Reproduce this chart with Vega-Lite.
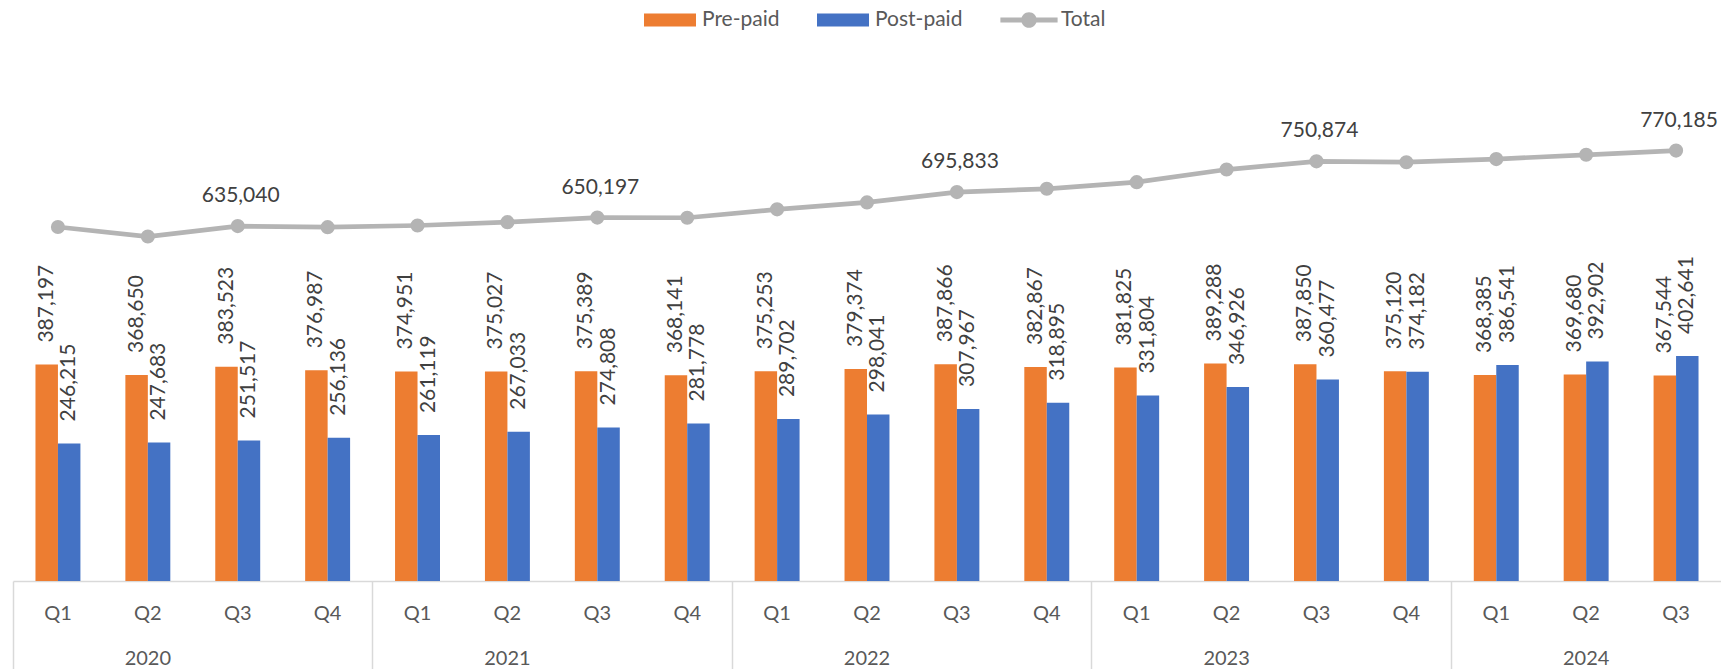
{
  "$schema": "https://vega.github.io/schema/vega-lite/v6.json",
  "width": 1708,
  "height": 503,
  "autosize": {"type": "none"},
  "padding": {"left": 13, "top": 78, "right": 0, "bottom": 88},
  "background": "white",
  "config": {"view": {"stroke": null}, "font": "Lato"},
  "data": {
    "values": [
      {"period": "2020 Q1", "year": "2020", "q": "Q1", "Pre-paid": 387197, "Post-paid": 246215, "total": 633412},
      {"period": "2020 Q2", "year": "2020", "q": "Q2", "Pre-paid": 368650, "Post-paid": 247683, "total": 616333},
      {"period": "2020 Q3", "year": "2020", "q": "Q3", "Pre-paid": 383523, "Post-paid": 251517, "total": 635040},
      {"period": "2020 Q4", "year": "2020", "q": "Q4", "Pre-paid": 376987, "Post-paid": 256136, "total": 633123},
      {"period": "2021 Q1", "year": "2021", "q": "Q1", "Pre-paid": 374951, "Post-paid": 261119, "total": 636070},
      {"period": "2021 Q2", "year": "2021", "q": "Q2", "Pre-paid": 375027, "Post-paid": 267033, "total": 642060},
      {"period": "2021 Q3", "year": "2021", "q": "Q3", "Pre-paid": 375389, "Post-paid": 274808, "total": 650197},
      {"period": "2021 Q4", "year": "2021", "q": "Q4", "Pre-paid": 368141, "Post-paid": 281778, "total": 649919},
      {"period": "2022 Q1", "year": "2022", "q": "Q1", "Pre-paid": 375253, "Post-paid": 289702, "total": 664955},
      {"period": "2022 Q2", "year": "2022", "q": "Q2", "Pre-paid": 379374, "Post-paid": 298041, "total": 677415},
      {"period": "2022 Q3", "year": "2022", "q": "Q3", "Pre-paid": 387866, "Post-paid": 307967, "total": 695833},
      {"period": "2022 Q4", "year": "2022", "q": "Q4", "Pre-paid": 382867, "Post-paid": 318895, "total": 701762},
      {"period": "2023 Q1", "year": "2023", "q": "Q1", "Pre-paid": 381825, "Post-paid": 331804, "total": 713629},
      {"period": "2023 Q2", "year": "2023", "q": "Q2", "Pre-paid": 389288, "Post-paid": 346926, "total": 736214},
      {"period": "2023 Q3", "year": "2023", "q": "Q3", "Pre-paid": 387850, "Post-paid": 360477, "total": 750874},
      {"period": "2023 Q4", "year": "2023", "q": "Q4", "Pre-paid": 375120, "Post-paid": 374182, "total": 749302},
      {"period": "2024 Q1", "year": "2024", "q": "Q1", "Pre-paid": 368385, "Post-paid": 386541, "total": 754926},
      {"period": "2024 Q2", "year": "2024", "q": "Q2", "Pre-paid": 369680, "Post-paid": 392902, "total": 762582},
      {"period": "2024 Q3", "year": "2024", "q": "Q3", "Pre-paid": 367544, "Post-paid": 402641, "total": 770185}
    ]
  },
  "resolve": {"axis": {"x": "independent"}},
  "layer": [
    {
      "transform": [{"fold": ["Pre-paid", "Post-paid"], "as": ["type", "count"]}],
      "mark": {"type": "bar"},
      "encoding": {
        "x": {
          "field": "period", "type": "nominal", "sort": null,
          "scale": {"paddingInner": 0, "paddingOuter": 0},
          "axis": {
            "orient": "bottom", "title": null, "labelExpr": "slice(datum.value, 5)",
            "ticks": false, "domain": false, "grid": false, "labelAngle": 0,
            "labelFont": "Lato", "labelFontSize": 20, "labelColor": "#595959",
            "labelBaseline": "middle", "labelPadding": 32
          }
        },
        "xOffset": {"field": "type", "type": "nominal", "sort": ["Pre-paid", "Post-paid"], "scale": {"paddingInner": 0, "paddingOuter": 1.1}},
        "y": {"field": "count", "type": "quantitative", "scale": {"domain": [0, 900000]}, "axis": null},
        "color": {
          "field": "type", "type": "nominal",
          "scale": {"domain": ["Pre-paid", "Post-paid", "Total"], "range": ["#ED7D31", "#4472C4", "#B4B4B4"]},
          "legend": {
            "title": null, "orient": "none", "direction": "horizontal",
            "legendX": 631, "legendY": -84, "padding": 0,
            "symbolSize": 2704, "symbolType": "M-1,-0.25L1,-0.25L1,0.25L-1,0.25Z",
            "symbolStrokeWidth": 0, "symbolOpacity": 1,
            "labelFont": "Lato", "labelFontSize": 21, "labelColor": "#595959",
            "labelOffset": 6, "columnPadding": 37,
            "encode": {
              "symbols": {
                "update": {
                  "shape": {"signal": "datum.value === 'Total' ? 'M-1.1,-0.1L1.1,-0.1L1.1,0.1L-1.1,0.1Z M0.3,0A0.3,0.3 0 1,1 -0.3,0A0.3,0.3 0 1,1 0.3,0Z' : 'M-1,-0.25L1,-0.25L1,0.25L-1,0.25Z'"}
                }
              }
            }
          }
        }
      }
    },
    {
      "transform": [{"fold": ["Pre-paid", "Post-paid"], "as": ["type", "count"]}],
      "mark": {"type": "text", "angle": 270, "align": "left", "baseline": "middle", "dx": 22, "fontSize": 21, "font": "Lato", "color": "#404040"},
      "encoding": {
        "x": {"field": "period", "type": "nominal", "sort": null, "axis": null},
        "xOffset": {"field": "type", "type": "nominal", "sort": ["Pre-paid", "Post-paid"]},
        "y": {"field": "count", "type": "quantitative", "axis": null},
        "text": {"field": "count", "type": "quantitative", "format": ","}
      }
    },
    {
      "mark": {"type": "line", "strokeWidth": 4.7},
      "encoding": {
        "x": {
          "field": "period", "type": "nominal", "sort": null,
          "axis": {
            "orient": "bottom", "title": null,
            "values": ["2020 Q1", "2021 Q1", "2022 Q1", "2023 Q1", "2024 Q1"],
            "bandPosition": 0, "labels": false, "ticks": true, "tickSize": 89,
            "tickColor": "#D9D9D9", "tickWidth": 1.5, "domain": true,
            "domainColor": "#D9D9D9", "domainWidth": 1.5, "grid": false
          }
        },
        "y": {"field": "total", "type": "quantitative", "axis": null},
        "color": {"datum": "Total"}
      }
    },
    {
      "mark": {"type": "point", "filled": true, "size": 200, "opacity": 1},
      "encoding": {
        "x": {
          "field": "period", "type": "nominal", "sort": null,
          "axis": {
            "orient": "bottom", "title": null,
            "values": ["2020 Q2", "2021 Q2", "2022 Q2", "2023 Q2", "2024 Q2"],
            "bandPosition": 1, "labelExpr": "slice(datum.value, 0, 4)",
            "ticks": false, "domain": false, "grid": false, "labelAngle": 0,
            "labelFont": "Lato", "labelFontSize": 20, "labelColor": "#595959",
            "labelBaseline": "middle", "labelPadding": 77
          }
        },
        "y": {"field": "total", "type": "quantitative", "axis": null},
        "color": {"datum": "Total"}
      }
    },
    {
      "transform": [{"filter": "datum.q == 'Q3'"}],
      "mark": {"type": "text", "baseline": "alphabetic", "dy": -24, "dx": 3, "fontSize": 21, "font": "Lato", "color": "#404040"},
      "encoding": {
        "x": {"field": "period", "type": "nominal", "sort": null, "axis": null},
        "y": {"field": "total", "type": "quantitative", "axis": null},
        "text": {"field": "total", "type": "quantitative", "format": ","}
      }
    }
  ]
}
